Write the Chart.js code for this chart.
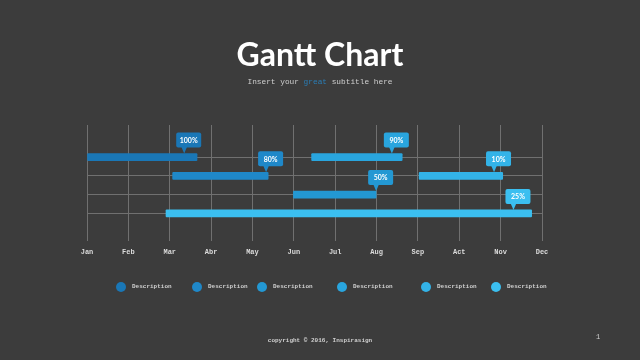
<!DOCTYPE html>
<html>
<head>
<meta charset="utf-8">
<script src="https://cdn.jsdelivr.net/npm/chart.js@4.4.0/dist/chart.umd.min.js"></script>
<style>
 html, body { margin: 0; padding: 0; background: #3c3c3c; }
 #wrap { position: relative; width: 640px; height: 360px; overflow: hidden; }
 canvas { position: absolute; left: 0; top: 0; }
 .title { position: absolute; left: 0; width: 640px; top: 38px; line-height: 32px; text-align: center; font-family: Lato; font-weight: bold; font-size: 32px; color: #fff; }
 .sub { position: absolute; left: 0; width: 640px; top: 77px; line-height: 10px; text-align: center; font-family: "Liberation Mono"; font-size: 7.8px; color: #cfcfcf; }
 .sub span { color: #2a7db5; }
 .leg { position: absolute; top: 282px; height: 10px; }
 .leg i { position: absolute; left: -5px; top: 0; width: 10px; height: 10px; border-radius: 50%; }
 .leg b { position: absolute; left: 11px; top: 1px; line-height: 8px; white-space: nowrap; font-family: "Liberation Mono"; font-weight: bold; font-size: 6px; color: #cfcfcf; }
 .foot { position: absolute; left: 0; width: 640px; top: 337px; line-height: 8px; text-align: center; font-family: "Liberation Mono"; font-weight: bold; font-size: 6px; color: #d0d0d0; }
 .page { position: absolute; left: 596px; top: 333px; line-height: 8px; font-family: "Liberation Mono"; font-size: 7px; color: #d0d0d0; }
</style>
</head>
<body>
<div id="wrap">
 <canvas id="chart" width="640" height="360"></canvas>
 <div class="title">Gantt Chart</div>
 <div class="sub">Insert your <span>great</span> subtitle here</div>
 <div id="legend"></div>
 <div class="foot">copyright © 2016, Inspirasign</div>
 <div class="page">1</div>
</div>
<script>
const months = ["Jan", "Feb", "Mar", "Abr", "May", "Jun", "Jul", "Aug", "Sep", "Act", "Nov", "Dec"];
const rows = [1, 2, 3, 4];

// one entry per task bar
const taskRow = [1, 2, 3, 1, 2, 4];
const taskStart = [0, 2.07, 4.99, 5.43, 8.03, 1.91];
const taskEnd = [2.66, 4.38, 6.99, 7.62, 10.05, 10.75];
const progress = [100, 80, 50, 90, 10, 25];
const markerAt = [2.35, 4.33, 6.99, 7.37, 9.84, 10.31];
const legendLabels = ["Description", "Description", "Description", "Description", "Description", "Description"];

const colors = ["#1a77b6", "#1f88c9", "#2398d3", "#29a5de", "#33b3e8", "#3bbff0"];
const legendLeft = [121, 197, 262, 342, 426, 496];

// speech-bubble labels above each bar
const callouts = {
 id: "callouts",
 afterDatasetsDraw(chart) {
  const ctx = chart.ctx;
  const x = chart.scales.x;
  chart.data.datasets.forEach((ds, i) => {
   const bar = chart.getDatasetMeta(i).data[0];
   const px = x.getPixelForValue(markerAt[i]);
   const tipY = bar.y - bar.height / 2;
   const boxW = 25, boxH = 15, tail = 6;
   const top = tipY - tail - boxH;
   const left = px - 8;
   ctx.save();
   ctx.fillStyle = ds.backgroundColor;
   ctx.beginPath();
   ctx.roundRect(left, top, boxW, boxH, 2);
   ctx.fill();
   ctx.beginPath();
   ctx.moveTo(px - 3, top + boxH - 1);
   ctx.lineTo(px + 3, top + boxH - 1);
   ctx.lineTo(px, tipY);
   ctx.closePath();
   ctx.fill();
   ctx.fillStyle = "#fff";
   ctx.font = "bold 7px Lato";
   ctx.textAlign = "center";
   ctx.textBaseline = "middle";
   ctx.fillText(progress[i] + "%", left + boxW / 2, top + boxH / 2 + 0.5);
   ctx.restore();
  });
 },
};

new Chart(document.getElementById("chart"), {
 type: "bar",
 data: {
  datasets: taskRow.map((row, i) => ({
   label: legendLabels[i],
   data: [{ x: [taskStart[i], taskEnd[i]], y: row }],
   backgroundColor: colors[i],
   barThickness: 7,
   borderRadius: 1,
   borderSkipped: false,
   grouped: false,
  })),
 },
 options: {
  indexAxis: "y",
  responsive: false,
  animation: false,
  layout: { padding: { left: 87, right: 98, top: 125, bottom: 97 } },
  scales: {
   x: {
    type: "linear",
    min: 0,
    max: 11,
    ticks: {
     stepSize: 1,
     padding: 7,
     color: "#dcdcdc",
     font: { family: "Liberation Mono", weight: "bold", size: 7 },
     callback: (v) => months[v],
    },
    grid: { color: "#707070", drawTicks: false },
    border: { display: false },
   },
   y: {
    type: "linear",
    reverse: true,
    offset: false,
    min: -0.71,
    max: 5.45,
    afterBuildTicks: (scale) => {
     scale.ticks = rows.map((v) => ({ value: v }));
    },
    ticks: { display: false },
    grid: { color: "#707070", drawTicks: false, offset: false },
    border: { display: false },
   },
  },
  plugins: {
   legend: { display: false },
   tooltip: { enabled: false },
  },
 },
 plugins: [callouts],
});

// html legend
const legend = document.getElementById("legend");
legendLabels.forEach((label, i) => {
 const item = document.createElement("div");
 item.className = "leg";
 item.style.left = legendLeft[i] + "px";
 item.innerHTML = `<i style="background:${colors[i]}"></i><b>${label}</b>`;
 legend.appendChild(item);
});
</script>
</body>
</html>
